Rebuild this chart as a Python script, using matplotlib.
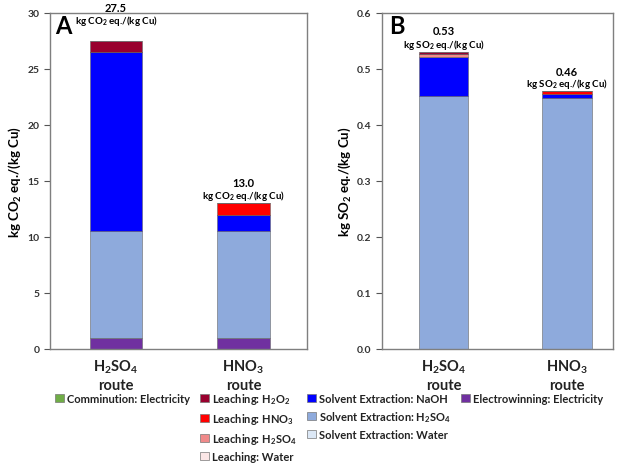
import numpy as np
import matplotlib
matplotlib.use("Agg")
import matplotlib.pyplot as plt
from matplotlib.patches import Patch

plt.rcParams['font.family'] = ['Lato', 'DejaVu Sans']
plt.rcParams['mathtext.default'] = 'regular'

routes = ["H$_2$SO$_4$\nroute", "HNO$_3$\nroute"]

categories = ["Comminution: Electricity", "Leaching: H$_2$O$_2$",
              "Leaching: HNO$_3$", "Leaching: H$_2$SO$_4$", "Leaching: Water",
              "Solvent Extraction: NaOH", "Solvent Extraction: H$_2$SO$_4$",
              "Solvent Extraction: Water", "Electrowinning: Electricity"]
colors = ["#70ad47", "#99002e", "#ff0000", "#f08a8a", "#fbe6e6",
          "#0000ff", "#8eaadc", "#dce8f6", "#7030a0"]

# kg CO2 eq./(kg Cu), per category, [H2SO4 route, HNO3 route]
co2 = [[0.0, 0.0],     # comminution
       [1.0, 0.0],     # leaching H2O2
       [0.0, 1.0],     # leaching HNO3
       [0.0, 0.0],     # leaching H2SO4
       [0.0, 0.0],     # leaching water
       [16.0, 1.5],    # SX NaOH
       [9.5, 9.5],     # SX H2SO4
       [0.0, 0.0],     # SX water
       [1.0, 1.0]]     # electrowinning

# kg SO2 eq./(kg Cu)
so2 = [[0.0, 0.0],
       [0.004, 0.0],
       [0.0, 0.004],
       [0.004, 0.0],
       [0.0, 0.0],
       [0.071, 0.008],
       [0.451, 0.448],
       [0.0, 0.0],
       [0.0, 0.0]]

co2_totals = ["27.5", "13.0"]
so2_totals = ["0.53", "0.46"]

fig = plt.figure(figsize=(6.25, 4.64), dpi=100)
axA = fig.add_axes([0.080, 0.2457, 0.411, 0.7243])
axB = fig.add_axes([0.611, 0.2457, 0.370, 0.7243])


def stack(ax, vals, width):
    x = np.arange(len(routes))
    bottom = np.zeros(len(routes))
    # Excel draws the last series at the bottom
    for i in range(len(categories) - 1, -1, -1):
        v = np.array(vals[i])
        ax.bar(x, v, width, bottom=bottom, color=colors[i],
               edgecolor="#666666", linewidth=0.4)
        bottom += v
    ax.set_xticks(x)
    ax.set_xticklabels(routes, fontsize=10.5, fontweight="bold",
                       color="#222222", linespacing=1.3)
    ax.tick_params(axis="x", length=0, pad=6)
    ax.tick_params(axis="y", direction="out", length=4, width=0.8,
                   color="#555555", labelsize=7.5, labelcolor="#333333")
    for s in ax.spines.values():
        s.set_color("#7f7f7f")
        s.set_linewidth(1.0)
    return bottom


tA = stack(axA, co2, 0.41)
axA.set_xlim(-0.518, 1.498)
axA.set_ylim(0, 30)
axA.set_yticks(np.arange(0, 31, 5))
for lab in axA.get_yticklabels():
    lab.set_fontweight("bold")
axA.set_ylabel("kg CO$_2$ eq./(kg Cu)", fontsize=9.5, fontweight="bold",
               labelpad=3)

tB = stack(axB, so2, 0.40)
axB.set_xlim(-0.498, 1.372)
axB.set_ylim(0, 0.6)
axB.set_yticks(np.arange(0, 0.61, 0.1))
axB.set_yticklabels([f"{v:.1f}" for v in np.arange(0, 0.61, 0.1)])
for lab in axB.get_yticklabels():
    lab.set_fontweight("bold")
axB.set_ylabel("kg SO$_2$ eq./(kg Cu)", fontsize=9.5, fontweight="bold",
               labelpad=3)

# total labels above bars
A_pos = [(30.5, 29.4), (14.9, 13.75)]
for i, (y1, y2) in enumerate(A_pos):
    axA.text(i, y1, co2_totals[i], ha="center", va="center", fontsize=8,
             fontweight="bold", clip_on=False)
    axA.text(i, y2, "kg CO$_2$ eq./(kg Cu)", ha="center", va="center",
             fontsize=7, fontweight="bold", clip_on=False)
B_pos = [(0.568, 0.545), (0.496, 0.475)]
for i, (y1, y2) in enumerate(B_pos):
    axB.text(i, y1, so2_totals[i], ha="center", va="center", fontsize=8,
             fontweight="bold", clip_on=False)
    axB.text(i, y2, "kg SO$_2$ eq./(kg Cu)", ha="center", va="center",
             fontsize=7, fontweight="bold", clip_on=False)

fig.text(63 / 625, 1 - 27 / 464, "A", fontsize=17, fontweight="bold",
         ha="center", va="center")
fig.text(397 / 625, 1 - 27 / 464, "B", fontsize=17, fontweight="bold",
         ha="center", va="center")

# legend laid out like the Excel one: 4 columns, blanks fill the gaps
blank = Patch(facecolor="none", edgecolor="none")
order = [0, None, None, None,
         1, 2, 3, 4,
         5, 6, 7, None,
         8, None, None, None]
handles, labels = [], []
for k in order:
    if k is None:
        handles.append(blank)
        labels.append("")
    else:
        handles.append(Patch(facecolor=colors[k], edgecolor="#777777",
                             linewidth=0.5))
        labels.append(categories[k])
leg = fig.legend(handles, labels, ncol=4, loc="upper left",
                 bbox_to_anchor=(0.088, 1 - 392 / 464), frameon=False,
                 fontsize=8, handlelength=0.8, handleheight=0.8,
                 handletextpad=0.3, columnspacing=0.9, labelspacing=0.45,
                 borderpad=0, borderaxespad=0)
for t in leg.get_texts():
    t.set_fontweight("bold")
    t.set_color("#222222")

fig.savefig("out.png", dpi=100)
